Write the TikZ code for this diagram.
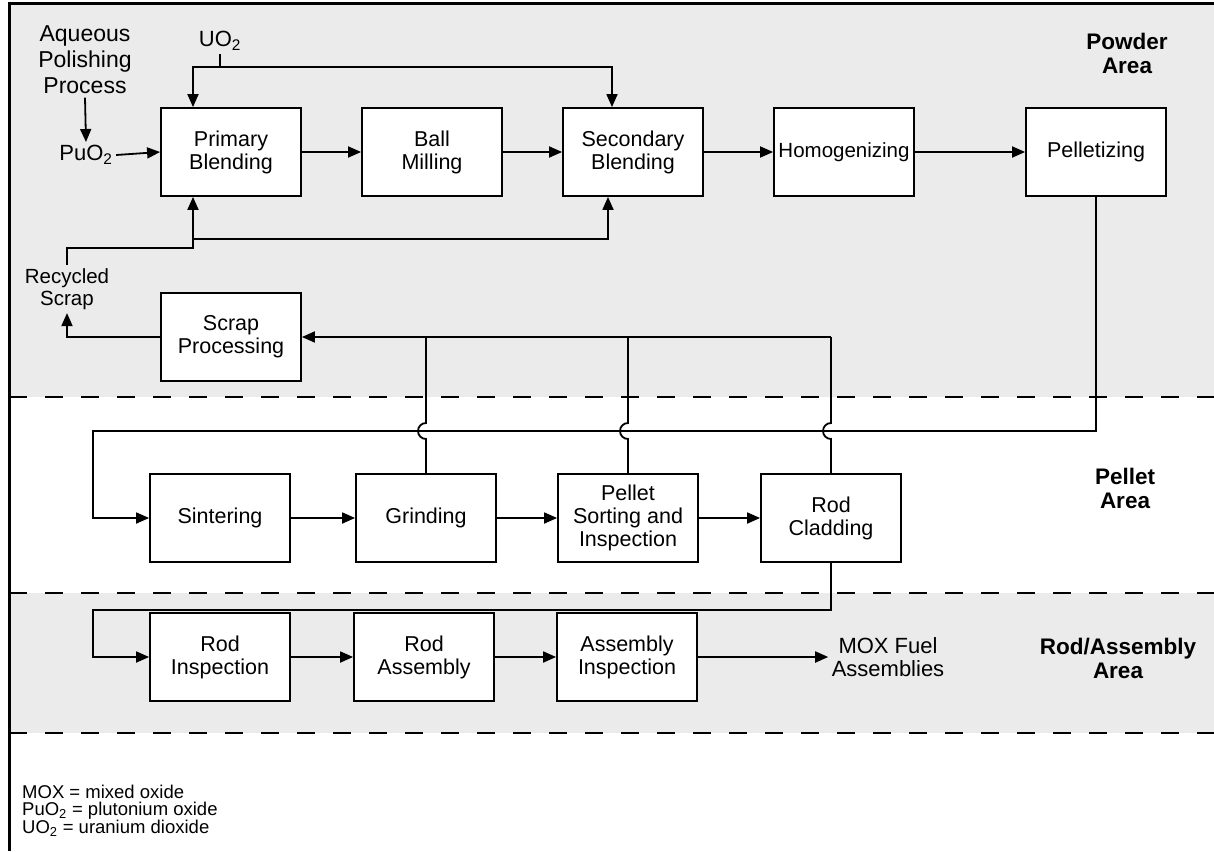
\documentclass[tikz,border=0pt]{standalone}
\usepackage{fontspec}
\setmainfont{Liberation Sans}
\usepackage{tikz}
\usetikzlibrary{arrows.meta}

\tikzset{
  stepbox/.style={draw, fill=white, line width=1.8pt, minimum width=140pt, minimum height=88pt,
    inner xsep=1pt, align=center, font=\fontsize{21.5}{23}\selectfont},
  flowtxt/.style={align=center, font=\fontsize{22}{23}\selectfont},
  flow/.style={line width=1.8pt, -{Triangle[length=13pt,width=11pt]}},
  link/.style={line width=1.8pt},
  areasep/.style={line width=2pt, dash pattern=on 18pt off 18pt},
  arealabel/.style={align=center, font=\fontsize{22.5}{24}\selectfont\bfseries},
}

\begin{document}
\begin{tikzpicture}[x=1pt,y=-1pt]
  \useasboundingbox (0,0) rectangle (1214,851);
  \fill[black!8] (9,4) rectangle (1214,397);
  \fill[black!8] (9,593) rectangle (1214,733);
  \draw[areasep] (9,397) -- (1214,397);
  \draw[areasep] (9,593) -- (1214,593);
  \draw[areasep] (9,733) -- (1214,733);
  \draw[line width=3pt] (9,851) -- (9,4) -- (1214,4);

  \node[stepbox] (prim) at (231,152) {Primary\\Blending};
  \node[stepbox] (ball) at (432,152) {Ball\\Milling};
  \node[stepbox] (sec) at (633,152) {Secondary\\Blending};
  \node[stepbox, font=\fontsize{20.5}{23}\selectfont] (homo) at (844,152) {Homogenizing};
  \node[stepbox] (pell) at (1096,152) {Pelletizing};
  \node[stepbox] (scrap) at (231,337) {Scrap\\Processing};

  \node[stepbox] (sint) at (220,518) {Sintering};
  \node[stepbox] (grind) at (426,518) {Grinding};
  \node[stepbox] (sort) at (628,518) {Pellet\\Sorting and\\Inspection};
  \node[stepbox] (clad) at (831,518) {Rod\\Cladding};

  \node[stepbox] (rinsp) at (220,657) {Rod\\Inspection};
  \node[stepbox] (rasm) at (424,657) {Rod\\Assembly};
  \node[stepbox] (ainsp) at (627,657) {Assembly\\Inspection};
  \node[flowtxt] (mox) at (888,657) {MOX Fuel\\Assemblies};

  \node[flowtxt, font=\fontsize{23}{26}\selectfont] (aq) at (85,60) {Aqueous\\Polishing\\Process};
  \node[flowtxt] (puo) at (86,155) {PuO\textsubscript{2}};
  \node[flowtxt] (uo) at (220,41) {UO\textsubscript{2}};
  \node[flowtxt, font=\fontsize{20.5}{22}\selectfont] (recyc) at (67,289) {Recycled\\Scrap};

  \node[arealabel] (powder) at (1127,53) {Powder\\Area};
  \node[arealabel] (pellarea) at (1125,488) {Pellet\\Area};
  \node[arealabel] (rodarea) at (1118,658) {Rod/Assembly\\Area};

  \node[anchor=north west, inner sep=0pt, align=left, font=\fontsize{18.5}{17}\selectfont] (key) at (22,785)
    {MOX = mixed oxide\\PuO\textsubscript{2} = plutonium oxide\\UO\textsubscript{2} = uranium dioxide};

  % powder area
  \coordinate (uojoin) at (220,67);
  \coordinate (rcjoin) at (193,248);
  \coordinate (rcsplit) at (193,239);
  \draw[flow] (aq.south) -- (puo.north);
  \draw[flow] (puo.east) -- (prim.west);
  \draw[link] (uo.south) -- (uojoin);
  \draw[flow] (uojoin) -| ([xshift=-38pt]prim.north);
  \draw[flow] (uojoin) -| ([xshift=-21pt]sec.north);
  \draw[flow] (recyc.north) |- (rcjoin) -- ([xshift=-38pt]prim.south);
  \draw[flow] (rcsplit) -| ([xshift=-25pt]sec.south);
  \draw[flow] (scrap.west) -| (recyc.south);
  \draw[flow] (prim) -- (ball);
  \draw[flow] (ball) -- (sec);
  \draw[flow] (sec) -- (homo);
  \draw[flow] (homo) -- (pell);

  % scrap return lines, bumped where they cross
  \foreach \b in {grind,sort,clad}
    \draw[link] (\b.north) -- (\b.north |- 0,439) arc (90:270:8) -- (\b.north |- scrap.east);
  \draw[flow] (clad.north |- scrap.east) -- (scrap.east);

  % pellet area
  \coordinate (sintturn) at (93,431);
  \draw[flow] (pell.south) |- (sintturn) |- (sint.west);
  \draw[flow] (sint) -- (grind);
  \draw[flow] (grind) -- (sort);
  \draw[flow] (sort) -- (clad);

  % rod area
  \coordinate (rodturn) at (93,610);
  \draw[flow] (clad.south) |- (rodturn) |- (rinsp.west);
  \draw[flow] (rinsp) -- (rasm);
  \draw[flow] (rasm) -- (ainsp);
  \draw[flow] (ainsp) -- (mox);
\end{tikzpicture}
\end{document}
